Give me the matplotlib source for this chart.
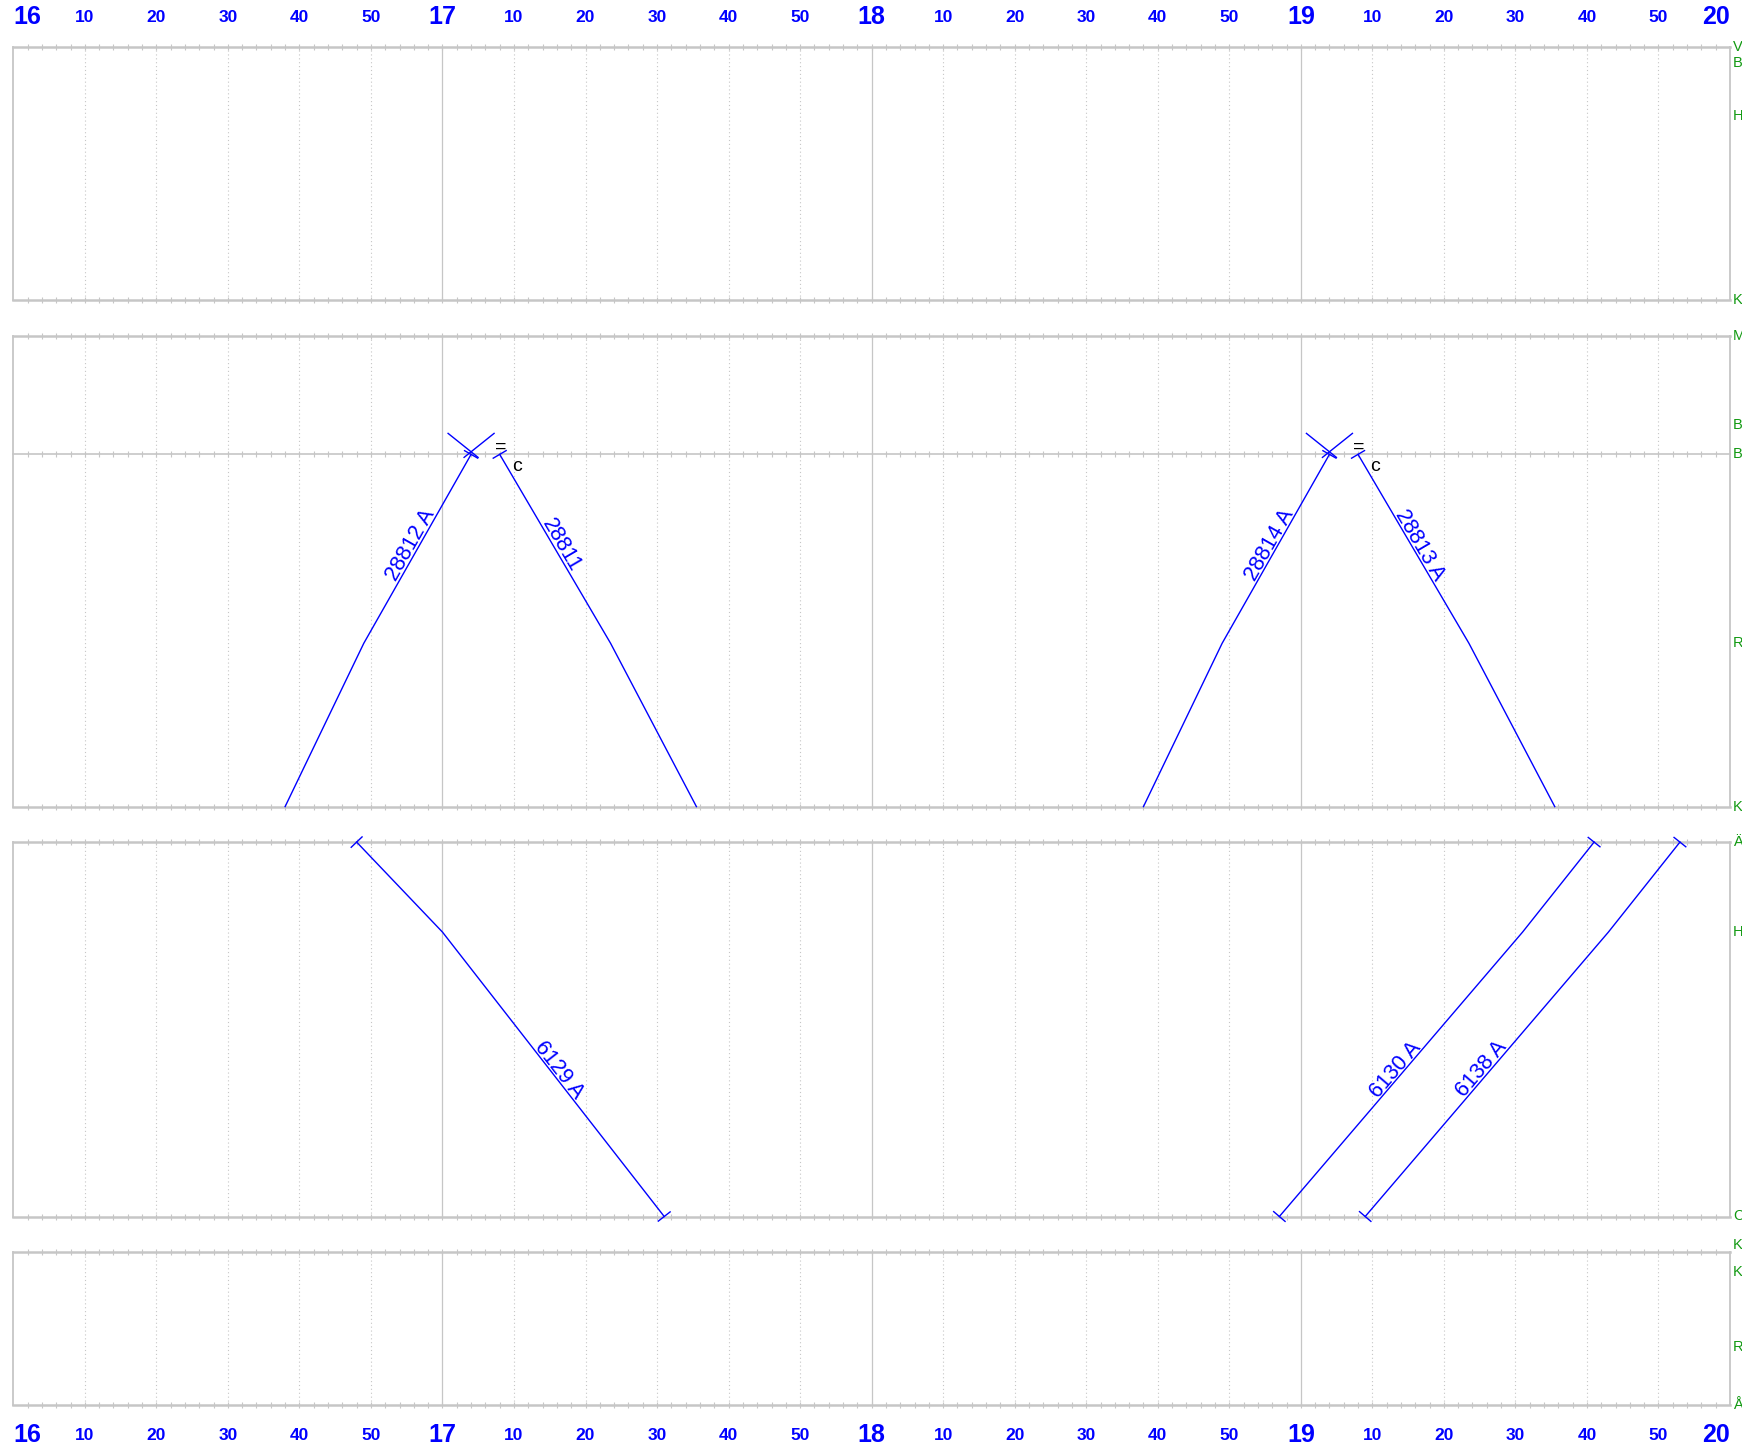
import matplotlib
matplotlib.use("Agg")
import matplotlib.pyplot as plt
import numpy as np

plt.rcParams["font.family"] = ["Liberation Sans", "DejaVu Sans"]

# --- time axis ---------------------------------------------------------
HOURS = [16, 17, 18, 19, 20]
MINUTE_LABELS = ["10", "20", "30", "40", "50"]

# --- stations per panel: name, position along the line, drawn as a rule
p1_names = ["V", "B", "H", "K"]
p1_km = [0.0, 1.5, 6.2, 22.8]
p1_ruled = [True, False, False, True]

p2_names = ["M", "B", "B", "R", "K"]
p2_km = [0.0, 8.1, 10.7, 27.7, 42.4]
p2_ruled = [True, False, True, False, True]

p3_names = ["Ä", "H", "C"]
p3_km = [0.0, 8.1, 33.7]
p3_ruled = [True, False, True]

p4_names = ["K", "K", "R", "Å"]
p4_km = [0.0, 1.8, 8.5, 13.8]
p4_ruled = [True, False, False, True]

# --- trains --------------------------------------------------------------
t_28812 = ["16:38", "16:49", "17:04"]
km_28812 = [42.4, 27.7, 10.7]
t_28811 = ["17:08", "17:23:30", "17:35:30"]
km_28811 = [10.7, 27.7, 42.4]
t_28814 = ["18:38", "18:49", "19:04"]
km_28814 = [42.4, 27.7, 10.7]
t_28813 = ["19:08", "19:23:30", "19:35:30"]
km_28813 = [10.7, 27.7, 42.4]
t_6129 = ["16:48", "17:00", "17:31"]
km_6129 = [0.0, 8.1, 33.7]
t_6130 = ["18:57", "19:31", "19:41"]
km_6130 = [33.7, 8.1, 0.0]
t_6138 = ["19:09", "19:43", "19:53"]
km_6138 = [33.7, 8.1, 0.0]

# crossing marks and notes at B (panel 2)
cross_t = ["17:04", "19:04"]
cross_km = [10.7, 10.7]
note_t = ["17:08", "19:08"]
note_km = [10.7, 10.7]


def hrs(s):
    p = [int(v) for v in s.split(":")] + [0, 0]
    return p[0] + p[1] / 60 + p[2] / 3600


W, H = 1742, 1450
X_L, X_R = 13.3, 1730.0
PANEL_TOP = [46.7, 335.5, 842.1, 1252.1]
PANEL_BOT = [300.0, 806.6, 1216.5, 1405.4]
T0, T1 = 16.0, 20.0

GRID = "#c6c6c6"
BLUE = "#0000ff"
GREEN = "#119911"

panels = [
    (p1_names, p1_km, p1_ruled),
    (p2_names, p2_km, p2_ruled),
    (p3_names, p3_km, p3_ruled),
    (p4_names, p4_km, p4_ruled),
]
label_dy = {(3, 0): 7}  # nudge (pixels up) for crowded station names

trains = [
    (1, "28812 A", t_28812, km_28812, False, True),
    (1, "28811", t_28811, km_28811, True, False),
    (1, "28814 A", t_28814, km_28814, False, True),
    (1, "28813 A", t_28813, km_28813, True, False),
    (2, "6129 A", t_6129, km_6129, True, True),
    (2, "6130 A", t_6130, km_6130, True, True),
    (2, "6138 A", t_6138, km_6138, True, True),
]

fig = plt.figure(figsize=(W / 100, H / 100), dpi=100)
axes = []
for i, (names, kms, ruled) in enumerate(panels):
    top, bot = PANEL_TOP[i], PANEL_BOT[i]
    ax = fig.add_axes([X_L / W, 1 - bot / H, (X_R - X_L) / W, (bot - top) / H])
    ax.set_xlim(T0, T1)
    ax.set_ylim(max(kms), 0)
    ax.axis("off")
    # vertical grid
    for m in range(10, 240, 10):
        t = T0 + m / 60
        if m % 60 == 0:
            ax.axvline(t, color=GRID, lw=0.9, zorder=1)
        else:
            ax.axvline(t, color=GRID, lw=0.8, ls=(0, (1, 2.5)), zorder=1)
    for t in (T0, T1):
        ax.axvline(t, color=GRID, lw=1.3, zorder=1, clip_on=False)
    # station rules with 2-minute ticks
    ticks = T0 + np.arange(2, 240, 2) / 60
    for nm, km, r in zip(names, kms, ruled):
        if not r:
            continue
        edge = km in (0.0, max(kms))
        ax.axhline(km, color=GRID, lw=1.8 if edge else 1.2, zorder=1, clip_on=False)
        ax.plot(ticks, [km] * len(ticks), ls="none", marker="|", ms=4, mew=0.8,
                color=GRID, zorder=1, clip_on=False)
    # station names
    for j, (nm, km) in enumerate(zip(names, kms)):
        y = ax.transData.transform((T1, km))[1] + label_dy.get((i, j), 0)
        fig.text((X_R + 3) / W, y / H, nm, color=GREEN, fontsize=10.5,
                 ha="left", va="center")
    axes.append(ax)


def to_px(ax, t, km):
    return ax.transData.transform((t, km))


def px_line(ax, pts, **kw):
    d = ax.transData.inverted().transform(np.asarray(pts))
    ax.plot(d[:, 0], d[:, 1], clip_on=False, **kw)


def end_tick(ax, p_end, p_other, length=15):
    d = p_other - p_end
    d = d / np.hypot(*d)
    n = np.array([-d[1], d[0]])
    px_line(ax, [p_end - n * length / 2, p_end + n * length / 2],
            color=BLUE, lw=1.0, zorder=3)


for pi, name, ts, kms, tk0, tk1 in trains:
    ax = axes[pi]
    tt = [hrs(s) for s in ts]
    ax.plot(tt, kms, color=BLUE, lw=1.0, zorder=3, clip_on=False)
    pts = np.array([to_px(ax, t, k) for t, k in zip(tt, kms)])
    if tk0:
        end_tick(ax, pts[0], pts[1])
    if tk1:
        end_tick(ax, pts[-1], pts[-2])
    # label on longest segment
    seg = np.diff(pts, axis=0)
    k = int(np.argmax(np.hypot(seg[:, 0], seg[:, 1])))
    a, b = pts[k], pts[k + 1]
    if b[0] < a[0]:
        a, b = b, a
    d = b - a
    ang = np.degrees(np.arctan2(d[1], d[0]))
    n = np.array([-d[1], d[0]]) / np.hypot(*d)
    mid = (a + b) / 2 + n * 2
    md = ax.transData.inverted().transform(mid)
    ax.text(md[0], md[1], name, color=BLUE, fontsize=15.5, rotation=ang,
            rotation_mode="anchor", ha="center", va="baseline", zorder=4)

# crossing marks
for t, km in zip(cross_t, cross_km):
    ax = axes[1]
    c = to_px(ax, hrs(t), km)
    for sx in (-1, 1):
        px_line(ax, [c + np.array([sx * 23, 21]), c + np.array([-sx * 7, -3])],
                color=BLUE, lw=1.0, zorder=3)

# notes at departure point
for t, km in zip(note_t, note_km):
    ax = axes[1]
    c = to_px(ax, hrs(t), km)
    fig.text((c[0] + 1) / W, (c[1] + 7) / H, "=", fontsize=14, color="black",
             ha="center", va="center")
    fig.text((c[0] + 17) / W, (c[1] - 12) / H, "c", fontsize=14, color="black",
             ha="center", va="center")

# time labels top and bottom
for y in (1 - 17.3 / H, 1 - 1435.4 / H):
    for h in HOURS:
        x = (X_L + (h - T0) / (T1 - T0) * (X_R - X_L)) / W
        ha = "left" if h == HOURS[0] else ("right" if h == HOURS[-1] else "center")
        fig.text(x, y, str(h), color=BLUE, fontsize=18, fontweight="bold",
                 ha=ha, va="center")
        if h == HOURS[-1]:
            continue
        for m in MINUTE_LABELS:
            xm = (X_L + (h + int(m) / 60 - T0) / (T1 - T0) * (X_R - X_L)) / W
            fig.text(xm, y, m, color=BLUE, fontsize=12.5, fontweight="bold",
                     ha="center", va="center")

fig.savefig("out.png", dpi=100)
